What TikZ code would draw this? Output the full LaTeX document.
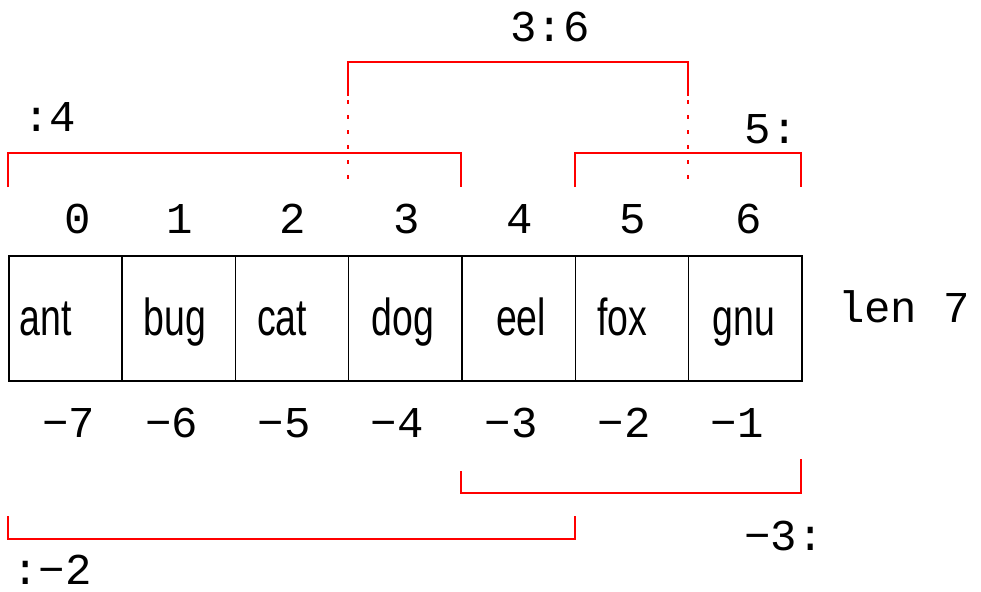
\documentclass[tikz,border=0pt]{standalone}
\usepackage{fontspec}
\setmainfont{Liberation Sans}
\newfontfamily\monofont{Liberation Mono}
\begin{document}
\begin{tikzpicture}[x=1pt,y=-1pt,
  cellbox/.style={draw=black,line width=1.5pt,minimum width=113.3pt,minimum height=125pt,inner sep=0pt,anchor=north west},
  celltext/.style={anchor=base,inner sep=0pt,font=\fontsize{52}{52}\selectfont},
  mono/.style={anchor=base,inner sep=0pt,font=\monofont\fontsize{44}{44}\selectfont},
  bracket/.style={draw=red,line width=1.5pt},
  dotpart/.style={draw=red,line width=1.5pt,dash pattern=on 4pt off 11pt}]
\useasboundingbox (0,0) rectangle (981,591);
% cells
\foreach \i/\xx in {0/8,1/121.3,2/234.6,3/347.9,4/461.2,5/574.5,6/687.8}{
  \node[cellbox] (c\i) at (\xx,255) {};
}
% cell texts
\node[celltext] (t0) at (46,335) {\scalebox{0.72}[1]{ant}};
\node[celltext] (t1) at (175,335) {\scalebox{0.72}[1]{bug}};
\node[celltext] (t2) at (282,335) {\scalebox{0.72}[1]{cat}};
\node[celltext] (t3) at (403,335) {\scalebox{0.72}[1]{dog}};
\node[celltext] (t4) at (521,335) {\scalebox{0.72}[1]{eel}};
\node[celltext] (t5) at (622,335) {\scalebox{0.72}[1]{fox}};
\node[celltext] (t6) at (744,335) {\scalebox{0.72}[1]{gnu}};
% indices
\node[mono] (i0) at (78,233) {0};
\node[mono] (i1) at (180,233) {1};
\node[mono] (i2) at (292.5,233) {2};
\node[mono] (i3) at (407,233) {3};
\node[mono] (i4) at (520,233) {4};
\node[mono] (i5) at (633,233) {5};
\node[mono] (i6) at (749,233) {6};
% negative indices
\node[mono] (n7) at (69,437) {−7};
\node[mono] (n6) at (172,437) {−6};
\node[mono] (n5) at (284,437) {−5};
\node[mono] (n4) at (397,437) {−4};
\node[mono] (n3) at (511,437) {−3};
\node[mono] (n2) at (624,437) {−2};
\node[mono] (n1) at (737,437) {−1};
% length
\node[mono] (len) at (904,322) {len 7};
% slice labels
\node[mono] (s36) at (550,42) {3:6};
\node[mono] (s4) at (50,131) {:4};
\node[mono] (s5) at (771,143) {5:};
\node[mono] (sm3) at (784,550) {−3:};
\node[mono] (sm2) at (52,584) {:−2};
% brackets top
\draw[bracket] (8,187) -- (8,153) -- (461,153) -- (461,187);
\draw[bracket] (575,187) -- (575,153) -- (801,153) -- (801,187);
\draw[bracket] (348,96) -- (348,62) -- (688,62) -- (688,96);
\draw[dotpart] (348,100) -- (348,182);
\draw[dotpart] (688,100) -- (688,182);
% brackets bottom
\draw[bracket] (461,471) -- (461,493) -- (801,493) -- (801,459);
\draw[bracket] (8,516) -- (8,539) -- (575,539) -- (575,516);
\end{tikzpicture}
\end{document}
